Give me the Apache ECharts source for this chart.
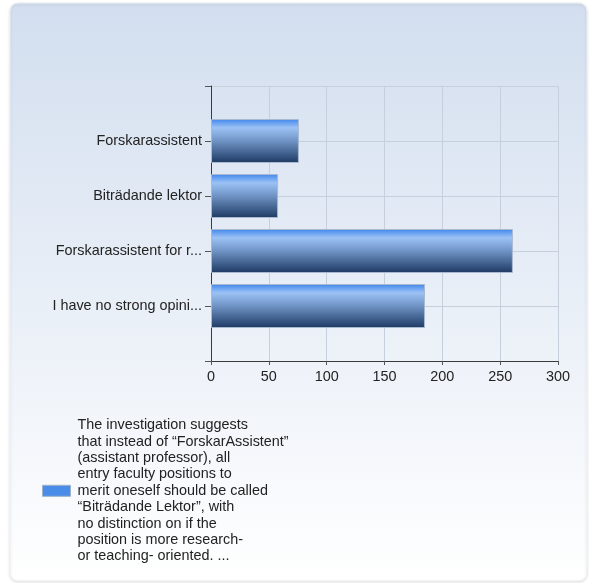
<!DOCTYPE html>
<html>
<head>
<meta charset="utf-8">
<script src="https://cdn.jsdelivr.net/npm/echarts@6/dist/echarts.min.js"></script>
<style>
html,body{margin:0;padding:0;background:#ffffff;}
#chart{width:589px;height:583px;}
</style>
</head>
<body>
<div id="chart"></div>
<script>
var categories = ['Forskarassistent', 'Biträdande lektor', 'Forskarassistent for r...', 'I have no strong opini...'];
var values = [76, 58, 261, 185];
var xTicks = [0, 50, 100, 150, 200, 250, 300];
var legendLines = [
  'The investigation suggests',
  'that instead of \u201cForskarAssistent\u201d',
  '(assistant professor), all',
  'entry faculty positions to',
  'merit oneself should be called',
  '\u201cBiträdande Lektor\u201d, with',
  'no distinction on if the',
  'position is more research-',
  'or teaching- oriented. ...'
];
var seriesName = legendLines.join('\n');

var axisCats = [''].concat(categories).concat(['']);
var barData = ['-'].concat(values).concat(['-']);

var chart = echarts.init(document.getElementById('chart'));
var font = 'Liberation Sans, Arial, sans-serif';
chart.setOption({
  animation: false,
  graphic: [{
    type: 'rect',
    z: -10,
    silent: true,
    shape: {x: 10, y: 3, width: 577, height: 578, r: 8},
    style: {
      fill: new echarts.graphic.LinearGradient(0, 0, 0, 1, [
        {offset: 0, color: '#d2deef'},
        {offset: 1, color: '#ffffff'}
      ]),
      stroke: '#eef0f3',
      lineWidth: 1,
      shadowBlur: 3,
      shadowColor: 'rgba(0,0,0,0.12)',
      shadowOffsetY: 1
    }
  }],
  grid: {left: 211, right: 31, top: 86, bottom: 222},
  xAxis: {
    type: 'value',
    min: xTicks[0],
    max: xTicks[xTicks.length - 1],
    interval: xTicks[1] - xTicks[0],
    axisLine: {show: true, lineStyle: {color: '#3a3a3a', width: 1}},
    axisTick: {show: true, length: 4, lineStyle: {color: '#555555'}},
    axisLabel: {color: '#222222', fontSize: 14.4, fontFamily: font, margin: 9},
    splitLine: {show: true, lineStyle: {color: '#c6cfdc', width: 1}}
  },
  yAxis: {
    type: 'category',
    data: axisCats,
    inverse: true,
    boundaryGap: false,
    axisLine: {show: true, lineStyle: {color: '#3a3a3a', width: 1}},
    axisTick: {show: true, length: 6, lineStyle: {color: '#555555'}},
    axisLabel: {color: '#222222', fontSize: 14.4, fontFamily: font, margin: 9, interval: 0},
    splitLine: {show: true, lineStyle: {color: '#c6cfdc', width: 1}}
  },
  legend: {
    show: true,
    orient: 'vertical',
    left: 42,
    top: 417,
    padding: 0,
    itemWidth: 28,
    itemHeight: 11,
    icon: 'rect',
    textStyle: {color: '#222222', fontSize: 14.4, fontFamily: font, lineHeight: 16.4, padding: [0, 0, 0, 2]},
    data: [{
      name: seriesName,
      itemStyle: {color: '#4a8de9', borderColor: '#9fb1c8', borderWidth: 1}
    }]
  },
  series: [{
    name: seriesName,
    type: 'bar',
    data: barData,
    barWidth: 44,
    itemStyle: {
      color: new echarts.graphic.LinearGradient(0, 0, 0, 1, [
        {offset: 0, color: '#3f86ec'},
        {offset: 0.2, color: '#9cc2f5'},
        {offset: 0.5, color: '#6f93c4'},
        {offset: 1, color: '#1d3963'}
      ]),
      borderColor: '#a9b9cf',
      borderWidth: 1
    }
  }]
});
</script>
</body>
</html>
